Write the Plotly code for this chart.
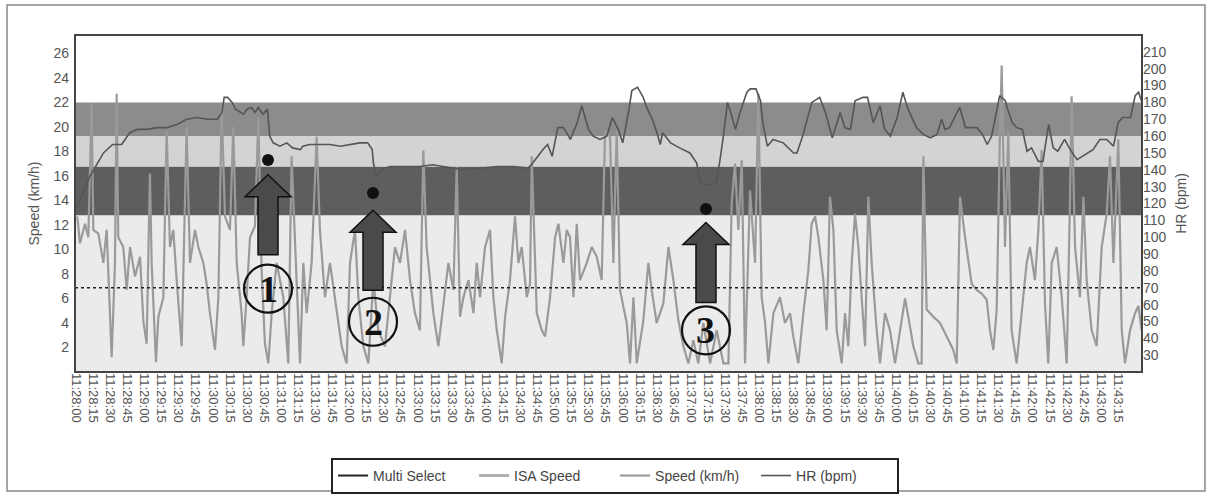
import plotly.graph_objects as go

# ---------------- data ----------------
START_H, START_M, START_S = 11, 28, 0
TICK_STEP_S = 15
N_TICKS = 62
TICK_SECONDS = [i * TICK_STEP_S for i in range(N_TICKS)]


def _fmt(sec):
    tot = START_H * 3600 + START_M * 60 + START_S + sec
    return "%02d:%02d:%02d" % (tot // 3600, (tot % 3600) // 60, tot % 60)


TICK_LABELS = [_fmt(s) for s in TICK_SECONDS]

SPEED_TICKS = [2, 4, 6, 8, 10, 12, 14, 16, 18, 20, 22, 24, 26]
HR_TICKS = [30, 40, 50, 60, 70, 80, 90, 100, 110, 120, 130, 140, 150, 160, 170, 180, 190, 200, 210]

# heart-rate zones (bpm) and their fills
ZONE_EDGES_BPM = [20, 113, 142, 160, 180]
ZONE_COLORS = ["#ebebeb", "#5e5e5e", "#d3d3d3", "#8c8c8c"]
HR_THRESHOLD = 70

# seconds after 11:28:00
SPEED_T = [1.0, 3.4, 7.8, 10.7, 13.6, 15.1, 19.5, 23.9, 26.8, 31.2, 34.1, 35.6, 37.0, 41.4, 44.4,
           47.3, 51.7, 56.1, 59.0, 61.9, 64.8, 66.3, 70.1, 72.2, 76.6, 79.5, 82.4, 85.3, 88.3, 92.7,
           97.0, 100.0, 104.4, 107.3, 111.7, 114.6, 117.5, 121.9, 124.9, 127.8, 130.7, 135.1, 138.0,
           141.0, 145.3, 146.8, 149.7, 152.7, 157.0, 160.0, 162.9, 165.8, 168.8, 171.7, 176.1, 181.9,
           186.3, 189.2, 193.6, 196.6, 199.5, 202.4, 206.8, 211.2, 214.1, 218.5, 222.9, 228.8, 233.2,
           237.5, 240.5, 244.9, 247.8, 252.2, 256.6, 261.0, 265.3, 271.2, 275.6, 280.0, 284.4, 288.8,
           293.2, 297.5, 301.9, 304.9, 307.8,
           313.7, 318.1, 322.5, 326.9, 331.3, 334.2, 337.1, 340.1, 344.5, 348.9, 351.8, 354.7, 359.1,
           363.5, 366.4, 369.4, 373.7, 376.7, 381.0, 385.4, 388.4, 391.3, 395.7, 398.6, 400.1, 404.5,
           408.9, 411.8, 416.2, 420.6, 423.5, 427.9, 430.8, 433.7, 436.7, 439.6, 442.5, 448.4, 452.8,
           457.2, 461.5, 464.5, 468.9, 471.8, 474.7, 477.6, 483.5, 486.4, 489.4, 492.3, 498.1, 502.5,
           505.4, 509.8, 515.7, 520.1, 524.5, 528.9, 533.3, 537.6, 542.0, 546.4, 550.8, 556.7, 562.5,
           568.4, 572.8, 575.7, 578.6, 581.5, 584.5, 587.4, 591.8, 596.2, 599.1, 602.0, 605.0, 607.9,
           612.3, 618.1, 622.5, 626.9,
           629.8, 634.2, 638.6, 643.0, 645.9, 648.9, 651.8, 656.2, 659.1, 662.0, 665.0, 667.9, 672.3,
           675.2, 678.1, 681.1, 684.0, 686.9, 689.8, 692.8, 695.7, 698.6, 703.0, 705.9, 710.3, 714.7,
           719.1, 723.5, 727.9, 730.8, 735.2, 739.6, 742.5, 744.0, 746.9, 752.8, 758.6, 764.5, 770.3,
           773.3, 776.2, 780.6, 783.5, 786.4, 790.8, 795.2, 799.6, 802.5, 805.5, 808.4, 811.3, 812.8,
           815.7, 818.6, 821.5, 825.9, 830.3, 834.7, 837.6, 842.0, 845.0, 847.9, 850.8, 853.7, 856.7,
           861.1, 865.5, 869.9, 872.8, 874.2, 877.2, 881.5, 884.5, 887.4, 891.8, 896.2, 900.6, 905.0,
           907.9, 910.9, 915.2, 918.2, 921.1, 925.5, 929.9, 932.8, 935.7]
SPEED_KMH = [12.7, 10.5, 12.1, 11.0, 21.9, 11.6, 11.3, 8.9, 11.6, 1.2, 8.9, 22.7, 11.0, 10.2, 6.7,
             10.2, 7.8, 9.4, 4.2, 2.3, 16.2, 8.9, 0.8, 4.5, 6.1, 19.7, 10.2, 11.6, 7.5, 2.1,
             20.0, 8.9, 11.6, 10.2, 8.9, 7.2, 4.8, 1.8, 6.1, 21.6, 12.7, 11.6, 20.0,
             8.9, 4.8, 2.1, 6.1, 11.0, 11.9, 20.8, 8.3, 2.3, 0.7, 4.8, 8.9, 6.1,
             0.7, 17.6, 7.5, 0.7, 8.9, 4.8, 8.9, 19.2, 11.6, 6.1, 8.9, 4.8, 2.1,
             0.7, 8.9, 11.6, 6.1, 2.1, 0.7, 7.5, 3.4, 2.1, 6.1, 10.2, 8.9, 11.6,
             7.5, 4.8, 3.4, 18.1, 10.2,
             4.8, 2.1, 5.6, 8.9, 6.7, 16.7, 4.5, 6.1, 7.5, 4.8, 8.9, 6.1, 10.2,
             11.6, 6.1, 3.4, 0.7, 4.5, 7.5, 12.7, 8.9, 10.2, 6.1, 7.2, 17.6, 4.8,
             3.4, 2.9, 6.1, 11.0, 12.1, 8.9, 11.6, 11.0, 6.1, 12.1, 7.5, 8.9, 10.2,
             9.4, 7.5, 19.7, 19.2, 8.9, 19.7, 6.7, 4.0, 0.7, 6.1, 0.7, 4.2, 8.9,
             6.7, 4.0, 5.6, 10.2, 7.5, 4.2, 2.1, 0.7, 2.6, 0.7, 4.0, 0.7, 3.4,
             0.7, 0.7, 13.8, 17.0, 11.6, 17.3, 0.7, 14.8, 8.9, 22.7, 6.1, 4.0, 0.7,
             4.8, 6.1, 4.0, 4.8,
             2.9, 0.7, 4.8, 8.3, 12.1, 12.7, 11.0, 7.5, 3.4, 14.3, 11.6, 3.4, 0.7,
             4.8, 2.1, 8.9, 12.9, 10.2, 6.1, 2.1, 14.3, 8.9, 3.4, 0.7, 4.8, 3.4,
             0.7, 3.4, 6.0, 4.5, 2.1, 0.7, 0.7, 17.6, 5.1, 4.5, 4.0, 2.9, 1.8,
             0.7, 14.3, 11.0, 8.9, 7.2, 6.7, 6.4, 5.9, 3.4, 1.8, 5.1, 19.7, 25.0,
             10.2, 19.7, 3.4, 0.7, 4.8, 8.9, 10.2, 7.5, 11.6, 18.1, 5.6, 0.7, 8.9,
             10.2, 6.1, 0.7, 14.3, 22.5, 10.2, 6.1, 14.3, 7.5, 3.4, 2.1, 10.2, 12.9,
             17.6, 8.9, 19.0, 3.4, 0.7, 3.4, 4.8, 5.4, 3.4]

HR_T = [1, 12, 24, 32, 40, 47, 54, 62, 71, 80, 89, 97, 106, 115, 124, 128, 130, 133, 137, 140,
        147, 150, 154, 157, 160, 164, 168, 170, 173, 179, 185, 190, 197, 199, 205, 214, 223, 232,
        241, 249, 256, 260, 261, 264, 267, 271, 276, 287, 302, 313, 340, 370, 384, 397, 401, 410,
        414, 418, 423, 428, 434, 440, 444, 447, 450, 454, 460, 466, 471, 476, 480, 485, 488, 493,
        498, 501, 506, 510, 513, 515, 522, 530, 539, 545, 548, 557, 562, 565, 568, 572, 574, 579,
        583, 589, 592, 597, 601, 603, 607, 612, 621, 630, 633, 638, 642, 646, 653, 658, 664, 668,
        671, 675, 680, 684, 691, 695, 700, 706, 710, 715, 721, 726, 730, 734, 738, 744, 750, 756,
        760, 763, 767, 772, 776, 781, 785, 791, 796, 800, 804, 809, 811, 816, 818, 822, 826, 831,
        835, 839, 845, 849, 854, 858, 862, 868, 873, 879, 886, 893, 899, 905, 911, 915, 919, 926,
        930, 933, 936]
HR_BPM = [118, 136, 150, 155, 155, 162, 164, 164, 165, 165, 167, 170, 171, 170, 170, 174, 183, 183,
          180, 176, 173, 176, 177, 174, 177, 173, 176, 160, 156, 154, 156, 153, 152, 154, 155, 155,
          155, 154, 155, 156, 156, 152, 144, 136, 139, 141, 142, 142, 142, 143, 140, 142, 142, 141,
          144, 152, 155, 148, 165, 165, 158, 168, 178, 171, 164, 160, 158, 160, 171, 164, 156, 174,
          187, 189, 183, 177, 170, 162, 155, 162, 156, 153, 150, 144, 132, 131, 132, 144, 158, 180,
          176, 164, 174, 186, 188, 188, 181, 168, 154, 158, 156, 150, 150, 160, 170, 180, 183, 174,
          159, 168, 174, 165, 164, 181, 183, 183, 168, 178, 164, 160, 171, 186, 177, 171, 165, 161,
          159, 161, 170, 164, 165, 172, 177, 165, 165, 165, 161, 155, 160, 177, 184, 181, 176, 168,
          165, 164, 151, 153, 145, 145, 167, 153, 151, 158, 152, 146, 149, 152, 158, 158, 154, 168,
          171, 171, 184, 186, 180]

# event markers: (time s, arrow tip km/h, dot km/h, label km/h)
EVENT_T = [168.5, 260.7, 553.1]
EVENT_TIP_KMH = [16.1, 13.2, 12.2]
EVENT_DOT_KMH = [17.3, 14.6, 13.3]
EVENT_LABEL_KMH = [6.8, 4.1, 3.4]
EVENT_LABELS = ["1", "2", "3"]

# ---------------- figure ----------------
FONT = "Liberation Sans, Arial, sans-serif"
fig = go.Figure()

fig.add_trace(go.Scatter(x=[None], y=[None], mode="lines", name="Multi Select",
                         line=dict(color="#222222", width=2)))
fig.add_trace(go.Scatter(x=[None], y=[None], mode="lines", name="ISA Speed",
                         line=dict(color="#b0b0b0", width=3)))
fig.add_trace(go.Scatter(x=SPEED_T, y=SPEED_KMH, mode="lines", name="Speed (km/h)",
                         line=dict(color="#9a9a9a", width=2.2), yaxis="y"))
fig.add_trace(go.Scatter(x=HR_T, y=HR_BPM, mode="lines", name="HR (bpm)",
                         line=dict(color="#555555", width=1.6), yaxis="y2"))
fig.add_trace(go.Scatter(x=EVENT_T, y=EVENT_DOT_KMH, mode="markers", showlegend=False,
                         marker=dict(color="#111111", size=12), yaxis="y"))

shapes = []
for lo, hi, col in zip(ZONE_EDGES_BPM[:-1], ZONE_EDGES_BPM[1:], ZONE_COLORS):
    shapes.append(dict(type="rect", xref="paper", yref="y2", x0=0, x1=1, y0=lo, y1=hi,
                       fillcolor=col, line=dict(width=0), layer="below"))
shapes.append(dict(type="line", xref="paper", yref="y2", x0=0, x1=1, y0=HR_THRESHOLD, y1=HR_THRESHOLD,
                   line=dict(color="#222222", width=1.5, dash="3px,3px")))

ARROW_PATH = "M0,0 L23,-22 L10,-22 L10,-80 L-10,-80 L-10,-22 L-23,-22 Z"
annotations = []
for t, tip, lab_y, lab in zip(EVENT_T, EVENT_TIP_KMH, EVENT_LABEL_KMH, EVENT_LABELS):
    shapes.append(dict(type="path", xref="x", yref="y", xsizemode="pixel", ysizemode="pixel",
                       xanchor=t, yanchor=tip, path=ARROW_PATH,
                       fillcolor="#4a4a4a", line=dict(color="#111111", width=1.5)))
    shapes.append(dict(type="circle", xref="x", yref="y", xsizemode="pixel", ysizemode="pixel",
                       xanchor=t, yanchor=lab_y, x0=-24, x1=24, y0=-24, y1=24,
                       line=dict(color="#111111", width=2.2)))
    annotations.append(dict(x=t, y=lab_y, xref="x", yref="y", text="<b>%s</b>" % lab, showarrow=False,
                            font=dict(family="Liberation Serif, DejaVu Serif, serif", size=38,
                                      color="#111111"),
                            xanchor="center", yanchor="middle"))

# plot frame and outer frame
shapes.append(dict(type="rect", xref="paper", yref="paper", x0=0, x1=1, y0=0, y1=1,
                   line=dict(color="#444444", width=2)))
shapes.append(dict(type="rect", xref="paper", yref="paper", x0=-0.0637, x1=1.059, y0=-0.353, y1=1.089,
                   line=dict(color="#888888", width=1.5)))

fig.update_layout(
    width=1212, height=499, autosize=False,
    margin=dict(l=75, r=70, t=35, b=127, autoexpand=False),
    paper_bgcolor="white", plot_bgcolor="white",
    font=dict(family=FONT, color="#555555", size=14),
    shapes=shapes, annotations=annotations,
    showlegend=True,
    legend=dict(orientation="h", x=0.24, y=-0.255, xanchor="left", yanchor="top",
                bordercolor="#222222", borderwidth=2, bgcolor="white",
                font=dict(size=14, color="#444444"),
                entrywidth=96, entrywidthmode="pixels", itemwidth=30),
    xaxis=dict(range=[-1, 936], tickvals=TICK_SECONDS, ticktext=TICK_LABELS, tickangle=90,
               showgrid=False, zeroline=False, showline=False, ticks="", automargin=False,
               tickfont=dict(size=13, color="#555555")),
    yaxis=dict(range=[0, 27.5], tickvals=SPEED_TICKS, showgrid=False, zeroline=False,
               showline=False, ticks="", ticklabelstandoff=5, automargin=False,
               title=dict(text="Speed (km/h)", standoff=10, font=dict(size=14, color="#555555")),
               tickfont=dict(size=14, color="#555555")),
    yaxis2=dict(range=[20, 220], tickvals=HR_TICKS, overlaying="y", side="right",
                showgrid=False, zeroline=False, showline=False, ticks="", automargin=False,
                title=dict(text="HR (bpm)", standoff=10, font=dict(size=14, color="#555555")),
                tickfont=dict(size=14, color="#555555")),
)

fig.write_html("out.html", config={"displayModeBar": False},
               post_script="document.body.style.margin='0px';document.body.style.overflow='hidden';")
